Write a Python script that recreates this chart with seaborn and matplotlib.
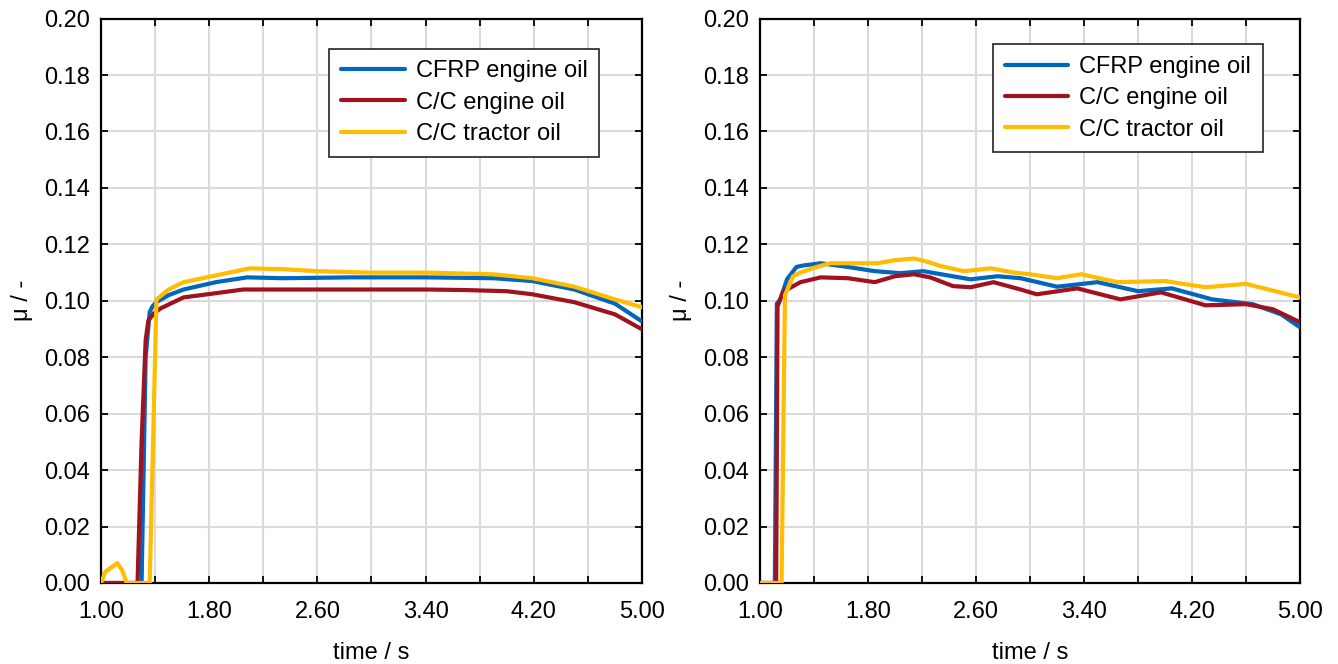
import numpy as np
import pandas as pd
import matplotlib
matplotlib.use("Agg")
import matplotlib.pyplot as plt
from matplotlib.ticker import FixedLocator, FormatStrFormatter, MultipleLocator
import seaborn as sns

# ---------------- data ----------------
series_names = ["CFRP engine oil", "C/C engine oil", "C/C tractor oil"]
x_tick_labels = [1.00, 1.80, 2.60, 3.40, 4.20, 5.00]

# left panel
cfrp_L_t = [1.00, 1.30, 1.33, 1.36, 1.38, 1.41, 1.50, 1.61, 1.85, 2.08, 2.35, 2.85, 3.40, 3.90, 4.19, 4.50, 4.80, 5.00]
cfrp_L_v = [0, 0, 0.080, 0.096, 0.098, 0.0995, 0.102, 0.104, 0.1066, 0.1083, 0.108, 0.1083, 0.1083, 0.108, 0.107, 0.104, 0.099, 0.0927]
ccE_L_t = [1.00, 1.27, 1.30, 1.33, 1.35, 1.39, 1.44, 1.61, 1.85, 2.05, 2.60, 3.40, 3.70, 4.00, 4.19, 4.50, 4.80, 5.00]
ccE_L_v = [0, 0, 0.050, 0.086, 0.093, 0.0955, 0.0973, 0.1012, 0.1027, 0.1040, 0.1040, 0.1040, 0.1038, 0.1034, 0.1023, 0.0995, 0.0952, 0.0899]
ccT_L_t = [1.00, 1.03, 1.07, 1.12, 1.155, 1.19, 1.36, 1.385, 1.41, 1.50, 1.61, 1.85, 2.10, 2.35, 2.60, 2.97, 3.40, 3.90, 4.19, 4.50, 4.80, 5.00]
ccT_L_v = [0, 0.0039, 0.0053, 0.007, 0.0046, 0, 0, 0.05, 0.1005, 0.104, 0.1066, 0.109, 0.1115, 0.1112, 0.1105, 0.110, 0.110, 0.1094, 0.108, 0.105, 0.1005, 0.0977]

# right panel
cfrp_R_t = [1.00, 1.11, 1.125, 1.15, 1.20, 1.27, 1.32, 1.45, 1.65, 1.85, 2.04, 2.21, 2.39, 2.56, 2.76, 2.93, 3.20, 3.50, 3.80, 4.05, 4.35, 4.65, 4.86, 5.00]
cfrp_R_v = [0, 0, 0.099, 0.1005, 0.1076, 0.112, 0.1125, 0.1133, 0.112, 0.1105, 0.1098, 0.1105, 0.109, 0.1076, 0.1087, 0.108, 0.105, 0.1066, 0.1034, 0.1044, 0.1005, 0.0988, 0.0952, 0.0906]
ccE_R_t = [1.00, 1.12, 1.13, 1.17, 1.20, 1.30, 1.45, 1.65, 1.85, 2.00, 2.14, 2.26, 2.43, 2.56, 2.73, 2.93, 3.05, 3.35, 3.67, 3.97, 4.30, 4.60, 4.80, 5.00]
ccE_R_v = [0, 0, 0.098, 0.103, 0.104, 0.1066, 0.1083, 0.108, 0.1066, 0.1087, 0.1094, 0.1083, 0.1052, 0.1048, 0.1066, 0.104, 0.1023, 0.1044, 0.1005, 0.103, 0.0984, 0.0988, 0.097, 0.0924]
ccT_R_t = [1.00, 1.16, 1.185, 1.245, 1.30, 1.42, 1.52, 1.87, 2.00, 2.14, 2.22, 2.34, 2.51, 2.71, 2.88, 3.00, 3.20, 3.38, 3.65, 4.00, 4.30, 4.60, 5.00]
ccT_R_v = [0, 0, 0.102, 0.1087, 0.110, 0.112, 0.1133, 0.1133, 0.1144, 0.115, 0.1141, 0.1123, 0.1105, 0.1115, 0.110, 0.1094, 0.108, 0.1094, 0.1066, 0.107, 0.1048, 0.106, 0.1012]

colors = ["#0066BE", "#A0121F", "#FFBC00"]


def make_df(ts, vs):
    frames = []
    for name, t, v in zip(series_names, ts, vs):
        frames.append(pd.DataFrame({"time": t, "mu": v, "series": name}))
    return pd.concat(frames, ignore_index=True)


df_L = make_df([cfrp_L_t, ccE_L_t, ccT_L_t], [cfrp_L_v, ccE_L_v, ccT_L_v])
df_R = make_df([cfrp_R_t, ccE_R_t, ccT_R_t], [cfrp_R_v, ccE_R_v, ccT_R_v])

sns.set_theme(style="ticks")
plt.rcParams["font.family"] = ["Liberation Sans", "DejaVu Sans"]
plt.rcParams["text.color"] = "black"
plt.rcParams["axes.labelcolor"] = "black"
plt.rcParams["xtick.color"] = "black"
plt.rcParams["ytick.color"] = "black"

fig = plt.figure(figsize=(13.38, 6.64), dpi=100)
ax_L = fig.add_axes([0.0755, 0.122, 0.4043, 0.850])
ax_R = fig.add_axes([0.568, 0.122, 0.4036, 0.850])

legend_anchor = {0: (0.921, 0.947), 1: (0.931, 0.955)}
minor_x = [1.0 + 0.4 * k for k in range(11)]

for i, (ax, df) in enumerate([(ax_L, df_L), (ax_R, df_R)]):
    sns.lineplot(data=df, x="time", y="mu", hue="series", hue_order=series_names,
                 palette=colors, estimator=None, sort=False, linewidth=3.0,
                 ax=ax, zorder=3)
    ax.set_xlim(1.0, 5.0)
    ax.set_ylim(0.0, 0.20)
    ax.xaxis.set_major_locator(FixedLocator(x_tick_labels))
    ax.xaxis.set_minor_locator(FixedLocator(minor_x))
    ax.yaxis.set_major_locator(MultipleLocator(0.02))
    ax.xaxis.set_major_formatter(FormatStrFormatter("%.2f"))
    ax.yaxis.set_major_formatter(FormatStrFormatter("%.2f"))
    ax.grid(True, which="both", color="#DADADA", linewidth=1.5, zorder=0)
    ax.set_axisbelow(True)
    ax.tick_params(which="both", direction="in", top=True, right=True,
                   length=5, width=1.3, color="black", labelsize=17)
    ax.tick_params(axis="x", which="major", pad=13)
    ax.tick_params(axis="y", which="major", pad=8)
    for s in ax.spines.values():
        s.set_visible(True)
        s.set_color("black")
        s.set_linewidth(1.6)
    ax.set_xlabel("time / s", fontsize=17, labelpad=14)
    ax.set_ylabel("μ / -", fontsize=17, labelpad=8)
    leg = ax.legend(loc="upper right", bbox_to_anchor=legend_anchor[i],
                    fontsize=17, frameon=True, fancybox=False, framealpha=1,
                    edgecolor="#222222", handlelength=2.7, handletextpad=0.45,
                    borderpad=0.5, labelspacing=0.4, borderaxespad=0.0)
    leg.get_frame().set_linewidth(1.2)
    for line in leg.get_lines():
        line.set_linewidth(3.0)

fig.savefig("out.png", dpi=100)
